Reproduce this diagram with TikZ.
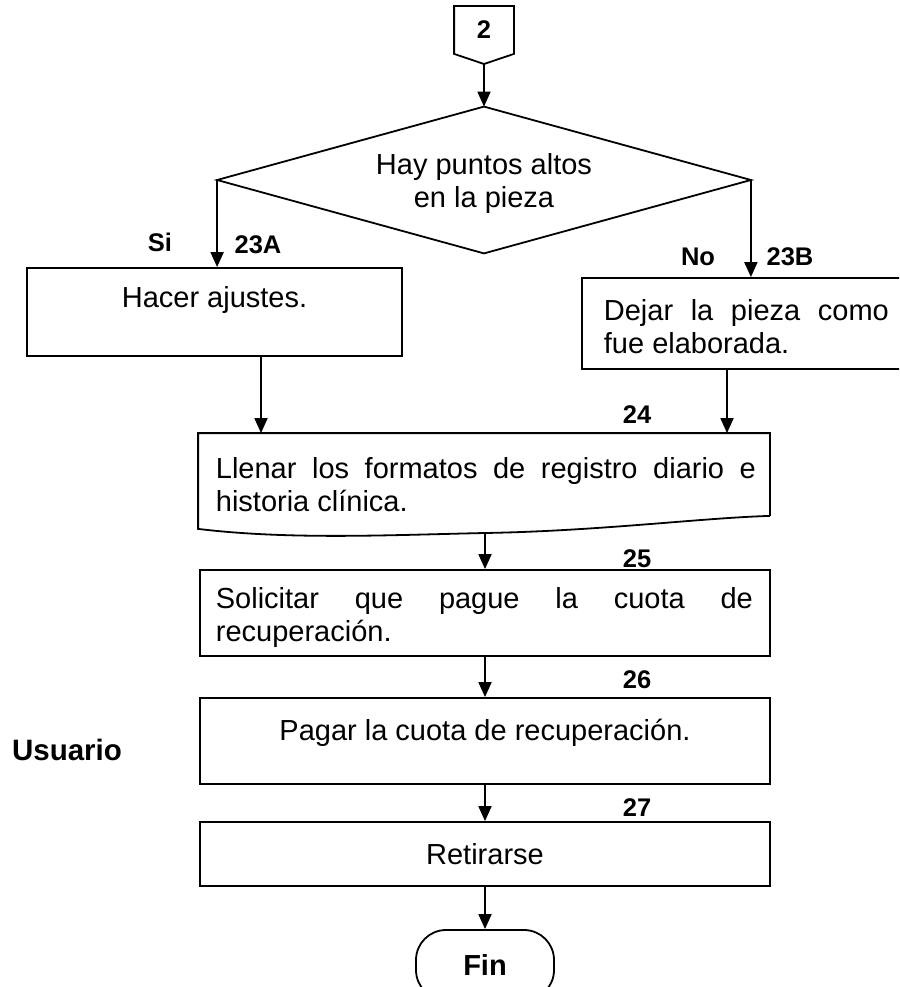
\documentclass[tikz,border=0pt]{standalone}
\usepackage{fontspec}
\setmainfont{Liberation Sans}
\usetikzlibrary{shapes.geometric,arrows.meta,calc}
\begin{document}
\begin{tikzpicture}[x=1pt,y=-1pt,
  line width=1.8pt,
  arr/.style={-{Triangle[length=15pt,width=13pt]}, line width=1.8pt},
  procbox/.style={draw, rectangle, line width=1.8pt, inner sep=0pt},
  body/.style={font=\fontsize{29}{33}\selectfont, inner sep=0pt},
  lab/.style={font=\fontsize{25.5}{29}\selectfont\bfseries, inner sep=0pt},
]
\useasboundingbox (0,0) rectangle (899,987);
\clip (0,0) rectangle (899,987);

% off-page connector
\node[lab, minimum width=58pt, minimum height=46pt] (c2) at (484,30) {2};
\coordinate (c2tip) at (484,64);
\draw (c2.north west) -- (c2.north east) -- (c2.south east) -- (c2tip) -- (c2.south west) -- cycle;

% decision
\node[minimum width=532pt, minimum height=145pt, inner sep=0pt] (d) at (484,180) {};
\draw (d.north) -- (d.east) -- (d.south) -- (d.west) -- cycle;
\node[body, align=center] (dt) at (484,184) {Hay puntos altos\\en la pieza};
\draw[arr] (c2tip) -- (d.north);

% left branch
\node[procbox, minimum width=375pt, minimum height=88pt] (a) at (214.5,312) {};
\node[body] (at) at (214.5,300) {Hacer ajustes.};
\draw[arr] (d.west) -- (d.west |- a.north);
\node[lab] (si) at (160,242) {Si};
\node[lab] (n23a) at (258,245) {23A};

% right branch
\node[procbox, minimum width=320pt, minimum height=91pt] (b) at (742,323.5) {};
\node[body, anchor=west, align=left] (bt) at (603,327) {\makebox[285pt][s]{Dejar la pieza como}\\fue elaborada.};
\draw[arr] (d.east) -- (d.east |- b.north);
\node[lab] (no) at (698,257) {No};
\node[lab] (n23b) at (790,257) {23B};

% document
\node[minimum width=570pt, minimum height=81pt, inner sep=0pt] (doc) at (484,474.5) {};
\coordinate (docout) at (485,533);
\draw (doc.south east) -- (doc.north east) -- (doc.north west) -- ($(doc.south west)+(0,13)$)
  .. controls (290,540) and (390,535) .. (docout)
  .. controls (600,531) and (700,518) .. (doc.south east);
\node[body, anchor=west, align=left] (doct) at (215,485) {\makebox[540pt][s]{Llenar los formatos de registro diario e}\\historia clínica.};
\path (a.south) ++(46.5,0) coordinate (aout);
\path (b.south) ++(-15,0) coordinate (bout);
\draw[arr] (aout) -- (aout |- doc.north);
\draw[arr] (bout) -- (bout |- doc.north);
\node[lab] (n24) at (637,415) {24};

% 25
\node[procbox, minimum width=570pt, minimum height=86pt] (s25) at (485,613) {};
\node[body, anchor=west, align=left] (s25t) at (215,617) {\makebox[537pt][s]{Solicitar que pague la cuota de}\\recuperación.};
\draw[arr] (docout) -- (s25.north);
\node[lab] (n25) at (637,559) {25};

% 26
\node[procbox, minimum width=570pt, minimum height=86pt] (s26) at (485,741) {};
\node[body] (s26t) at (485,733) {Pagar la cuota de recuperación.};
\draw[arr] (s25.south) -- (s26.north);
\node[lab] (n26) at (637,680) {26};

\node[inner sep=0pt, font=\fontsize{29.5}{33}\selectfont\bfseries] (us) at (67,750) {Usuario};

% 27
\node[procbox, body, minimum width=570pt, minimum height=64pt] (s27) at (485,854) {Retirarse};
\draw[arr] (s26.south) -- (s27.north);
\node[lab] (n27) at (637,808) {27};

% end
\node[draw, rounded corners=30pt, minimum width=138pt, minimum height=70pt, inner sep=0pt,
      font=\fontsize{29}{32}\selectfont\bfseries] (fin) at (485,965) {Fin};
\draw[arr] (s27.south) -- (fin.north);
\end{tikzpicture}
\end{document}
